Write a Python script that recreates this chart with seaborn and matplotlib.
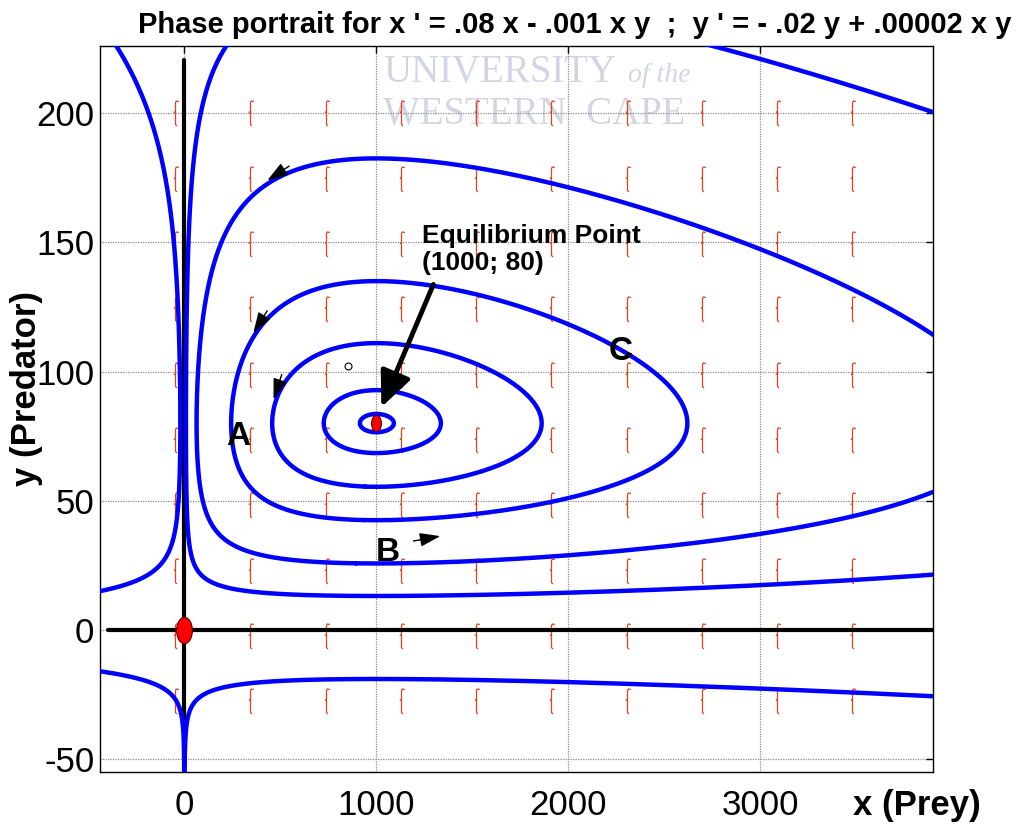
import numpy as np
import pandas as pd
import matplotlib
matplotlib.use("Agg")
import matplotlib.pyplot as plt
from matplotlib.path import Path
from matplotlib.transforms import Affine2D
import seaborn as sns
from contourpy import contour_generator

# Lotka-Volterra coefficients: x' = a x - b x y ; y' = -c y + d x y
prey_growth = 0.08
predation_rate = 0.001
predator_death = 0.02
conversion_rate = 0.00002

x_limits = (-440, 3900)
y_limits = (-55, 226)
x_ticks = [0, 1000, 2000, 3000]
y_ticks = [-50, 0, 50, 100, 150, 200]

# one point lying on each drawn orbit
orbit_x = [1000, 1000, 1000, 1000, 1000, 2000, -440, 1000, -440]
orbit_y = [83.6, 92.8, 111.0, 135.0, 182.5, 14.4, 15.0, -19.0, -16.0]

# direction-field sample grid
field_x = [-48, 344, 736, 1128, 1520, 1912, 2304, 2696, 3088, 3480]
field_y = [200.0, 174.7, 149.4, 124.1, 98.8, 73.5, 48.2, 22.9, -2.4, -27.7]

# equilibria and their marker sizes
equilibria_x = [0, 1000]
equilibria_y = [0, 80]
equilibria_size = [360, 140]

# arrowheads showing the direction of travel on three orbits
flow_arrow_x = [432, 359, 464]
flow_arrow_y = [174.0, 115.0, 89.3]

# initial point marker
start_x = [854]
start_y = [102]

region_labels = ["A", "B", "C"]
region_label_x = [281, 1062, 2271]
region_label_y = [75.0, 29.8, 107.8]

eq_text = "Equilibrium Point\n(1000; 80)"
eq_text_x, eq_text_y = 1240, 157
eq_arrow_tail = (1297, 133.7)
eq_arrow_tip = (1026, 86.2)

b_arrow_tail = (1193, 34.4)
b_arrow_tip = (1333, 36.3)

title = "Phase portrait for x ' = .08 x - .001 x y  ;  y ' = - .02 y + .00002 x y"

sns.set_theme(style="white")
plt.rcParams["font.family"] = ["Liberation Sans", "DejaVu Sans"]
plt.rcParams["axes.unicode_minus"] = False
plt.rcParams["text.color"] = "black"
plt.rcParams["axes.labelcolor"] = "black"
plt.rcParams["xtick.color"] = "black"
plt.rcParams["ytick.color"] = "black"

fig = plt.figure(figsize=(10.19, 8.26), dpi=100)
W, H = 1019, 826
ax = fig.add_axes([100 / W, 1 - 772 / H, (933 - 100) / W, (772 - 46) / H])
ax.set_xlim(*x_limits)
ax.set_ylim(*y_limits)


def invariant(x, y):
    return (conversion_rate * x - predator_death * np.log(np.abs(x))
            + predation_rate * y - prey_growth * np.log(np.abs(y)))


def flow(x, y):
    return (prey_growth * x - predation_rate * x * y,
            -predator_death * y + conversion_rate * x * y)


# orbits are level sets of the conserved quantity, traced per quadrant
pieces = []
pid = 0
for sx0, sy0 in zip(orbit_x, orbit_y):
    level = invariant(sx0, sy0)
    xr = np.geomspace(0.02, 4700 if sx0 > 0 else 700, 1500)
    yr = np.geomspace(0.02, 320 if sy0 > 0 else 90, 1200)
    xs = np.sort(np.sign(sx0) * xr)
    ys = np.sort(np.sign(sy0) * yr)
    X, Y = np.meshgrid(xs, ys)
    gen = contour_generator(xs, ys, invariant(X, Y))
    for seg in gen.lines(level):
        pieces.append(pd.DataFrame({"x": seg[:, 0], "y": seg[:, 1], "piece": pid}))
        pid += 1
orbits = pd.concat(pieces, ignore_index=True)

ax.grid(True, linestyle=(0, (1, 1)), color="#8a8a8a", linewidth=0.9, zorder=1)
ax.set_axisbelow(True)

# watermark
wm = "#d3d5e4"
ax.text(383 / W, 1 - 82 / H, "UNIVERSITY", transform=fig.transFigure, fontsize=28,
        family="Liberation Serif", color=wm, zorder=0.5, ha="left", va="baseline")
ax.text(628 / W, 1 - 82 / H, "of the", transform=fig.transFigure, fontsize=20,
        family="Liberation Serif", style="italic", color=wm, zorder=0.5, ha="left", va="baseline")
ax.text(383 / W, 1 - 124 / H, "WESTERN  CAPE", transform=fig.transFigure, fontsize=28,
        family="Liberation Serif", color=wm, zorder=0.5, ha="left", va="baseline")

# coordinate axes through the origin
ax.axvline(0, ymin=0, ymax=(220.7 - y_limits[0]) / (y_limits[1] - y_limits[0]),
           color="black", lw=3, zorder=3)
ax.axhline(0, xmin=(-400 - x_limits[0]) / (x_limits[1] - x_limits[0]), xmax=1,
           color="black", lw=3, zorder=3)

# direction-field glyphs
glyph = Path(
    [(0.14, 0.5), (0.03, 0.52), (0.0, 0.44), (0.0, -0.46), (0.06, -0.52),
     (0.0, 0.08), (-0.07, 0.04)],
    [Path.MOVETO, Path.LINETO, Path.LINETO, Path.LINETO, Path.LINETO,
     Path.MOVETO, Path.LINETO])
FX, FY = np.meshgrid(field_x, field_y)
ax.plot(FX.ravel(), FY.ravel(), ls="none", marker=glyph, markersize=18,
        mfc="none", mec="#e6401c", mew=0.9, zorder=2)

sns.lineplot(data=orbits, x="x", y="y", units="piece", estimator=None, sort=False,
             color="#0000ff", linewidth=3.2, ax=ax, legend=False, zorder=4)

# equilibria as upright ellipses
ellipse = Path.unit_circle().transformed(Affine2D().scale(0.6, 1.0))
for ex, ey, es in zip(equilibria_x, equilibria_y, equilibria_size):
    sns.scatterplot(x=[ex], y=[ey], marker=ellipse, s=es, color="#ff0000",
                    edgecolor="#5a0000", linewidth=0.8, ax=ax, zorder=6, legend=False)

ax.plot(start_x, start_y, ls="none", marker="o", markersize=5, mfc="white",
        mec="black", mew=0.8, zorder=5)

small_head = dict(arrowstyle="-|>,head_length=0.9,head_width=0.3",
                  color="black", lw=1.0, shrinkA=0, shrinkB=0, mutation_scale=14)

# direction arrows on orbits
fig.canvas.draw()
for px, py in zip(flow_arrow_x, flow_arrow_y):
    u, v = flow(px, py)
    p0 = ax.transData.transform((px, py))
    p1 = ax.transData.transform((px + u * 1e-3, py + v * 1e-3))
    dv = p1 - p0
    dv /= np.hypot(*dv)
    tail = ax.transData.inverted().transform(p0 - 26 * dv)
    ax.annotate("", xy=(px, py), xytext=tail, arrowprops=small_head, zorder=7)

ax.annotate("", xy=b_arrow_tip, xytext=b_arrow_tail, arrowprops=small_head, zorder=7)

ax.annotate("", xy=eq_arrow_tip, xytext=eq_arrow_tail,
            arrowprops=dict(arrowstyle="-|>,head_length=0.9,head_width=0.4",
                            color="black", lw=3.5, shrinkA=0, shrinkB=0,
                            mutation_scale=24), zorder=7)

ax.text(eq_text_x, eq_text_y, eq_text, fontsize=19, fontweight="bold", ha="left",
        va="top", linespacing=1.15, zorder=8)

for lab, lx, ly in zip(region_labels, region_label_x, region_label_y):
    ax.text(lx, ly, lab, fontsize=24, fontweight="bold", ha="center", va="center", zorder=8)

ax.set_xticks(x_ticks)
ax.set_yticks(y_ticks)
ax.set_xticklabels([str(t) for t in x_ticks])
ax.set_yticklabels([str(t) for t in y_ticks])
ax.tick_params(axis="both", which="both", direction="in", length=5, width=1,
               labelsize=25, top=True, right=True, colors="black")
ax.tick_params(axis="x", pad=12)
ax.tick_params(axis="y", pad=4)
ax.set_xlabel("")
ax.set_ylabel("")
for s in ax.spines.values():
    s.set_color("black")
    s.set_linewidth(1.0)
    s.set_visible(True)

fig.text(575 / W, 1 - 25 / H, title, fontsize=21, fontweight="bold",
         ha="center", va="center")
fig.text(917 / W, 1 - 805 / H, "x (Prey)", fontsize=25, fontweight="bold",
         ha="center", va="center")
fig.text(27 / W, 1 - 388 / H, "y (Predator)", fontsize=25, fontweight="bold",
         ha="center", va="center", rotation=90)

fig.savefig("out.png", dpi=100, facecolor="white")
